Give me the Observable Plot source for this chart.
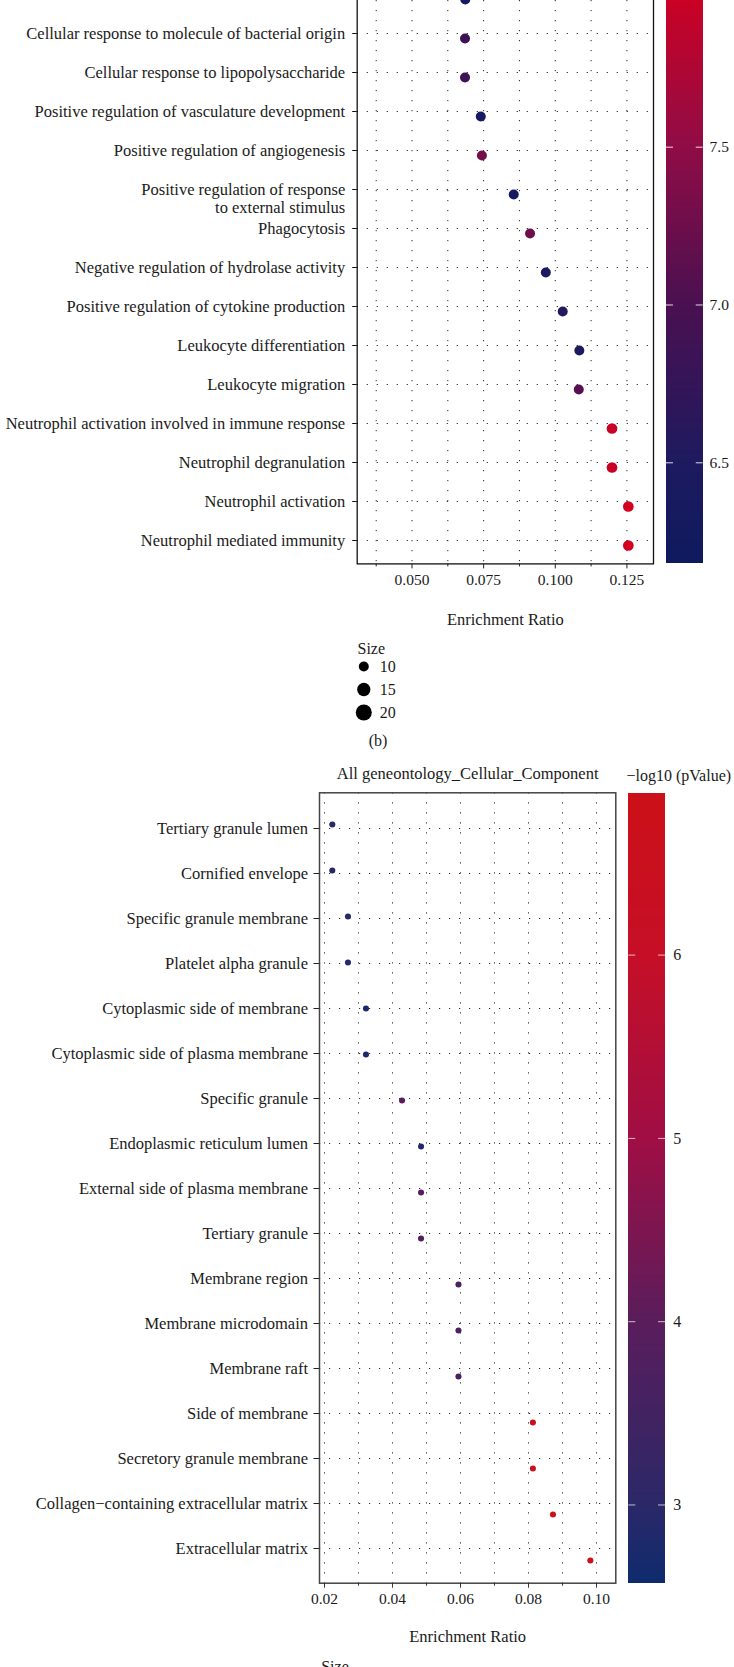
<!DOCTYPE html>
<html>
<head>
<meta charset="utf-8">
<script src="https://cdn.jsdelivr.net/npm/d3@7"></script>
<script src="https://cdn.jsdelivr.net/npm/@observablehq/plot@0.6"></script>
<style>
  html, body { margin: 0; padding: 0; background: #ffffff; }
  #page { position: relative; width: 734px; height: 1667px; overflow: hidden; background: #ffffff;
          font-family: "Liberation Serif", "Times New Roman", serif; color: #1a1a1a; }
  .cap { position: absolute; font-size: 16px; line-height: 20px; text-align: center; }
</style>
</head>
<body>
<div id="page"></div>
<script>
// ---------------- Panel (b): biological process (top, cropped) ----------------
const bpTerms = [
  "Response to molecule of bacterial origin",
  "Cellular response to molecule of bacterial origin",
  "Cellular response to lipopolysaccharide",
  "Positive regulation of vasculature development",
  "Positive regulation of angiogenesis",
  "Positive regulation of response\nto external stimulus",
  "Phagocytosis",
  "Negative regulation of hydrolase activity",
  "Positive regulation of cytokine production",
  "Leukocyte differentiation",
  "Leukocyte migration",
  "Neutrophil activation involved in immune response",
  "Neutrophil degranulation",
  "Neutrophil activation",
  "Neutrophil mediated immunity"
];
const bpHidden = ["Response to molecule of bacterial origin"]; // row cut off by the crop
const bpRatio = [0.0686, 0.0685, 0.0685, 0.0740, 0.0744, 0.0855, 0.0912, 0.0967, 0.1026, 0.1084, 0.1082, 0.1198, 0.1198, 0.1255, 0.1255];
const bpLogP  = [6.30, 6.85, 6.85, 6.35, 7.30, 6.35, 7.25, 6.40, 6.55, 6.45, 7.10, 7.95, 7.95, 8.05, 8.05];
const bpSize  = [10, 10, 10, 10, 10, 10, 10, 10, 10, 10, 10, 11, 11, 11, 11];
const bpTicks = [0.050, 0.075, 0.100, 0.125];
const bpMinorTicks = [0.0375, 0.0625, 0.0875, 0.1125];
const bpLegendTicks = [6.5, 7.0, 7.5];
const bpXLabel = "Enrichment Ratio";
const sizeTitle = "Size";
const sizeBreaks = [10, 15, 20];
const panelCaption = "(b)";

// ---------------- Cellular component (bottom) ----------------
const ccTitle = "All geneontology_Cellular_Component";
const ccTerms = [
  "Tertiary granule lumen",
  "Cornified envelope",
  "Specific granule membrane",
  "Platelet alpha granule",
  "Cytoplasmic side of membrane",
  "Cytoplasmic side of plasma membrane",
  "Specific granule",
  "Endoplasmic reticulum lumen",
  "External side of plasma membrane",
  "Tertiary granule",
  "Membrane region",
  "Membrane microdomain",
  "Membrane raft",
  "Side of membrane",
  "Secretory granule membrane",
  "Collagen\u2212containing extracellular matrix",
  "Extracellular matrix"
];
const ccRatio = [0.0223, 0.0223, 0.0269, 0.0269, 0.0322, 0.0322, 0.0428, 0.0484, 0.0484, 0.0484, 0.0594, 0.0594, 0.0594, 0.0813, 0.0813, 0.0872, 0.0982];
const ccLogP  = [2.90, 2.90, 2.90, 2.90, 2.75, 2.80, 4.05, 2.85, 3.90, 3.90, 3.65, 3.65, 3.65, 6.50, 6.55, 6.65, 6.88];
const ccSize  = [5, 5, 5, 5, 5, 5, 5, 5, 5, 5, 5, 5, 5, 5, 5, 5, 5];
const ccTicks = [0.02, 0.04, 0.06, 0.08, 0.10];
const ccMinorTicks = [0.03, 0.05, 0.07, 0.09];
const ccLegendTicks = [3, 4, 5, 6];
const ccLegendTitle = "\u2212log10 (pValue)";
const ccXLabel = "Enrichment Ratio";

// ---------------- helpers ----------------
const page = document.getElementById("page");
function place(node, left, top) {
  node.style.position = "absolute";
  node.style.left = left + "px";
  node.style.top = top + "px";
  node.style.maxWidth = "none";
  page.appendChild(node);
  return node;
}
const FONT = '"Liberation Serif", "Times New Roman", serif';
const baseStyle = {fontFamily: FONT, fontSize: "16.5px", color: "#1a1a1a", background: "transparent", overflow: "visible"};
const gridStyle = {stroke: "#2a2a2a", strokeWidth: 1, strokeDasharray: "1.2,8.8"};

const bpColor = {type: "linear", domain: [6.18, 6.5, 7.0, 7.5, 8.05],
  range: ["#0f1a5e", "#1e1a5f", "#4a1051", "#900c46", "#d4001f"]};
const ccColor = {type: "linear", domain: [2.57, 3, 4, 5, 6, 6.88],
  range: ["#0e2b6e", "#2b2868", "#5a1d5c", "#a00e44", "#c60f27", "#cc1018"]};
const bpR = {type: "pow", exponent: 0.5, domain: [10, 20], range: [5, 8]};
const ccR = {type: "sqrt", domain: [0, 10], range: [0, 4.3]};

const bpRows = bpTerms.map((term, i) => ({term, ratio: bpRatio[i], logp: bpLogP[i], size: bpSize[i]}));
const ccRows = ccTerms.map((term, i) => ({term, ratio: ccRatio[i], logp: ccLogP[i], size: ccSize[i]}));

// ================= top panel =================
const bpX = {domain: [0.030873, 0.134284]};
const bpFrame = {width: 734, height: 680, marginLeft: 356.7, marginRight: 81, marginTop: 10, marginBottom: 76.6};
const bpTop = -40.1;
const bpGridX = [...bpMinorTicks, ...bpTicks];

place(Plot.plot({
  ...bpFrame, style: baseStyle,
  x: bpX,
  y: {type: "point", domain: bpTerms, padding: 0.6},
  marks: [
    Plot.ruleX(bpGridX, {x: d => d, ...gridStyle}),
    Plot.ruleY(bpTerms, {y: d => d, ...gridStyle}),
    Plot.frame({stroke: "#111", strokeWidth: 1.3}),
    Plot.axisX({ticks: bpTicks, tickFormat: d3.format(".3f"), tickSize: 5, tickPadding: 5, label: null, fontSize: 15.5, stroke: "#222"}),
    Plot.axisX({ticks: bpMinorTicks, tickFormat: () => "", tickSize: 3, label: null, stroke: "#222"}),
    Plot.axisY({tickSize: 4.5, tickPadding: 7.5, label: null, stroke: "#111",
      tickFormat: d => bpHidden.includes(d) ? "" : d.split("\n")[0]}),
    Plot.text(bpTerms.filter(d => d.includes("\n")), {y: d => d, text: d => d.split("\n")[1],
      frameAnchor: "left", lineAnchor: "middle", textAnchor: "end", dx: -12, dy: 18.5}),
    Plot.text([bpXLabel], {text: d => d, frameAnchor: "bottom", lineAnchor: "middle", dy: 56})
  ]
}), 0, bpTop);

// dots layer (rows slightly stretched, as in the source raster)
place(Plot.plot({
  ...bpFrame, style: baseStyle,
  x: {...bpX, axis: null},
  y: {type: "point", domain: bpTerms, range: [35.7, 587.8], padding: 0, axis: null},
  r: bpR, color: bpColor,
  marks: [Plot.dot(bpRows, {x: "ratio", y: "term", r: "size", fill: "logp"})]
}), 0, bpTop);

// colour bar (top)
const bpBarDomain = [6.18, 8.1];
const bpBarStep = 0.005;
const bpBarSteps = d3.range(bpBarDomain[0], bpBarDomain[1], bpBarStep);
place(Plot.plot({
  width: 68, height: 620, marginLeft: 0, marginRight: 31.3, marginTop: 7.3, marginBottom: 6.7,
  style: {...baseStyle, fontSize: "15.5px"},
  x: {domain: [0, 1], axis: null},
  y: {domain: bpBarDomain},
  color: bpColor,
  marks: [
    Plot.rect(bpBarSteps, {x1: 0, x2: 1, y1: d => d, y2: d => Math.min(d + 3 * bpBarStep, bpBarDomain[1]),
      fill: d => d + bpBarStep / 2, shapeRendering: "crispEdges"}),
    Plot.ruleY(bpLegendTicks, {y: d => d, x1: 0, x2: 0.19, stroke: "white", strokeOpacity: 0.85}),
    Plot.ruleY(bpLegendTicks, {y: d => d, x1: 0.81, x2: 1, stroke: "white", strokeOpacity: 0.85}),
    Plot.axisY({anchor: "right", ticks: bpLegendTicks, tickFormat: d3.format(".1f"), tickSize: 0, tickPadding: 6.3, label: null})
  ]
}), 666, -50);

// size legend (top)
place(Plot.plot({
  width: 90, height: 90, marginLeft: 0, marginRight: 63.4, marginTop: 0, marginBottom: 0,
  style: {...baseStyle, fontSize: "16px"},
  y: {type: "point", domain: sizeBreaks, range: [25, 72.7], padding: 0, axis: null},
  r: bpR,
  marks: [
    Plot.dot(sizeBreaks, {y: d => d, r: d => d, fill: "#000"}),
    Plot.text(sizeBreaks, {y: d => d, text: d => String(d), dx: 16, textAnchor: "start"}),
    Plot.text([sizeTitle], {text: d => d, frameAnchor: "top-left", lineAnchor: "middle", dx: 7, dy: 8.5, textAnchor: "start"})
  ]
}), 350, 640);

// panel caption
const cap = document.createElement("div");
cap.className = "cap";
cap.textContent = panelCaption;
cap.style.left = "358px"; cap.style.top = "731px"; cap.style.width = "40px";
page.appendChild(cap);

// ================= bottom panel =================
const ccX = {domain: [0.01853, 0.10568]};
const ccFrame = {width: 734, height: 940, marginLeft: 319, marginRight: 118.7, marginTop: 52.3, marginBottom: 97.3};
const ccTop = 740;
const ccGridX = [...ccTicks, ...ccMinorTicks];

place(Plot.plot({
  ...ccFrame, style: baseStyle,
  x: ccX,
  y: {type: "point", domain: ccTerms, padding: 0.6},
  marks: [
    Plot.ruleX(ccGridX, {x: d => d, ...gridStyle}),
    Plot.ruleY(ccTerms, {y: d => d, ...gridStyle}),
    Plot.frame({stroke: "#444", strokeWidth: 1.5}),
    Plot.axisX({ticks: ccTicks, tickFormat: d3.format(".2f"), tickSize: 5, tickPadding: 5, label: null, fontSize: 15.5, stroke: "#333"}),
    Plot.axisX({ticks: ccMinorTicks, tickFormat: () => "", tickSize: 3, label: null, stroke: "#333"}),
    Plot.axisY({tickSize: 5.5, tickPadding: 6, label: null, stroke: "#222"}),
    Plot.text([ccTitle], {text: d => d, frameAnchor: "top", lineAnchor: "middle", dy: -19.3}),
    Plot.text([ccXLabel], {text: d => d, frameAnchor: "bottom", lineAnchor: "middle", dy: 53.3}),
    Plot.text([sizeTitle], {text: d => d, frameAnchor: "bottom-left", lineAnchor: "middle", textAnchor: "start", dx: 1.7, dy: 83.5, fontSize: 16})
  ]
}), 0, ccTop);

place(Plot.plot({
  ...ccFrame, style: baseStyle,
  x: {...ccX, axis: null},
  y: {type: "point", domain: ccTerms, range: [80, 824.3], padding: 0, axis: null},
  r: ccR, color: ccColor,
  marks: [Plot.dot(ccRows, {x: "ratio", y: "term", r: "size", fill: "logp"})]
}), 0, ccTop);

// colour bar (bottom)
const ccBarDomain = [2.57, 6.88];
const ccBarStep = 0.01;
const ccBarSteps = d3.range(ccBarDomain[0], ccBarDomain[1], ccBarStep);
place(Plot.plot({
  width: 108, height: 840, marginLeft: 2.3, marginRight: 69, marginTop: 33.3, marginBottom: 16.7,
  style: {...baseStyle, fontSize: "16px"},
  x: {domain: [0, 1], axis: null},
  y: {domain: ccBarDomain},
  color: ccColor,
  marks: [
    Plot.rect(ccBarSteps, {x1: 0, x2: 1, y1: d => d, y2: d => Math.min(d + 3 * ccBarStep, ccBarDomain[1]),
      fill: d => d + ccBarStep / 2, shapeRendering: "crispEdges"}),
    Plot.ruleY(ccLegendTicks, {y: d => d, x1: 0, x2: 0.19, stroke: "white", strokeOpacity: 0.7}),
    Plot.ruleY(ccLegendTicks, {y: d => d, x1: 0.81, x2: 1, stroke: "white", strokeOpacity: 0.7}),
    Plot.axisY({anchor: "right", ticks: ccLegendTicks, tickFormat: d3.format("d"), tickSize: 0, tickPadding: 7.7, label: null}),
    Plot.text([ccLegendTitle], {text: d => d, frameAnchor: "top-left", lineAnchor: "middle", textAnchor: "start", dx: -2.3, dy: -18.3})
  ]
}), 626, 760);
</script>
</body>
</html>
